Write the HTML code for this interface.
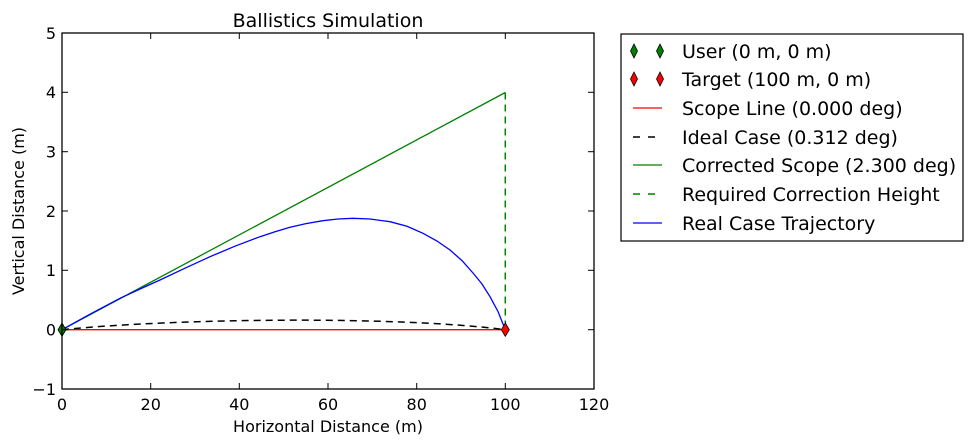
<!DOCTYPE html>
<html><head><meta charset="utf-8"><style>
html,body{margin:0;padding:0;background:#fff;}
svg{display:block;font-family:"DejaVu Sans","Liberation Sans",sans-serif;}
</style></head><body>
<svg width="973" height="446" viewBox="0 0 973 446" xmlns="http://www.w3.org/2000/svg">
<rect width="973" height="446" fill="#fff"/>
<text x="328" y="27" font-size="19" text-anchor="middle">Ballistics Simulation</text>
<!-- series -->
<line x1="62" y1="329.7" x2="505.3" y2="329.7" stroke="#f00" stroke-width="1.3"/>
<path d="M62 329.7 C 180 318, 400 316, 505.3 329.7" fill="none" stroke="#000" stroke-width="1.5" stroke-dasharray="7,5"/>
<line x1="62" y1="329.7" x2="505.3" y2="92.5" stroke="#008000" stroke-width="1.3"/>
<line x1="505.3" y1="92.5" x2="505.3" y2="329.7" stroke="#008000" stroke-width="1.5" stroke-dasharray="7,5"/>
<polyline fill="none" stroke="#00f" stroke-width="1.3" points="62,329.7 90,314.2 120,298.3 140,289 160,280 185,268.2 210,256.7 235,246.2 260,236.7 275,231.8 290,227.3 306,223.6 323,220.7 338,219 353,218.3 370,219 390,221.7 407,226.3 423,233.3 437,241 450,250 462,260.6 473,273 482,284 490,296.7 498,311.5 505.3,329.7"/>
<path d="M62 323 L66 329.7 L62 336.4 L58 329.7Z" fill="#008000" stroke="#000" stroke-width="0.8"/>
<path d="M505.3 323 L509.3 329.7 L505.3 336.4 L501.3 329.7Z" fill="#f00" stroke="#000" stroke-width="0.8"/>
<!-- axes -->
<rect x="62" y="33" width="532" height="356" fill="none" stroke="#000" stroke-width="1.3"/>
<g stroke="#000" stroke-width="1">
<line x1="150.7" y1="389" x2="150.7" y2="383"/><line x1="239.3" y1="389" x2="239.3" y2="383"/><line x1="328" y1="389" x2="328" y2="383"/><line x1="416.7" y1="389" x2="416.7" y2="383"/><line x1="505.3" y1="389" x2="505.3" y2="383"/>
<line x1="150.7" y1="33" x2="150.7" y2="39"/><line x1="239.3" y1="33" x2="239.3" y2="39"/><line x1="328" y1="33" x2="328" y2="39"/><line x1="416.7" y1="33" x2="416.7" y2="39"/><line x1="505.3" y1="33" x2="505.3" y2="39"/>
<line x1="62" y1="92.3" x2="68" y2="92.3"/><line x1="62" y1="151.7" x2="68" y2="151.7"/><line x1="62" y1="211" x2="68" y2="211"/><line x1="62" y1="270.3" x2="68" y2="270.3"/><line x1="62" y1="329.7" x2="68" y2="329.7"/>
<line x1="594" y1="92.3" x2="588" y2="92.3"/><line x1="594" y1="151.7" x2="588" y2="151.7"/><line x1="594" y1="211" x2="588" y2="211"/><line x1="594" y1="270.3" x2="588" y2="270.3"/><line x1="594" y1="329.7" x2="588" y2="329.7"/>
</g>
<g font-size="16" text-anchor="middle">
<text x="62" y="410">0</text><text x="150.7" y="410">20</text><text x="239.3" y="410">40</text><text x="328" y="410">60</text><text x="416.7" y="410">80</text><text x="505.3" y="410">100</text><text x="594" y="410">120</text>
</g>
<g font-size="16" text-anchor="end">
<text x="56" y="39">5</text><text x="56" y="98">4</text><text x="56" y="157.5">3</text><text x="56" y="216.8">2</text><text x="56" y="276">1</text><text x="56" y="335.5">0</text><text x="56" y="395">−1</text>
</g>
<text x="328" y="432" font-size="16" text-anchor="middle">Horizontal Distance (m)</text>
<text transform="translate(24,211) rotate(-90)" font-size="16" text-anchor="middle">Vertical Distance (m)</text>
<!-- legend -->
<rect x="621" y="34" width="342" height="207" fill="#fff" stroke="#000" stroke-width="1.2"/>
<path d="M634 44 L637.5 51 L634 58 L630.5 51Z" fill="#008000" stroke="#000" stroke-width="0.8"/>
<path d="M660 44 L663.5 51 L660 58 L656.5 51Z" fill="#008000" stroke="#000" stroke-width="0.8"/>
<path d="M634 72 L637.5 79 L634 86 L630.5 79Z" fill="#f00" stroke="#000" stroke-width="0.8"/>
<path d="M660 72 L663.5 79 L660 86 L656.5 79Z" fill="#f00" stroke="#000" stroke-width="0.8"/>
<line x1="633" y1="108" x2="662" y2="108" stroke="#f00" stroke-width="1.3"/>
<line x1="633" y1="137" x2="662" y2="137" stroke="#000" stroke-width="1.5" stroke-dasharray="7,8"/>
<line x1="633" y1="165" x2="662" y2="165" stroke="#008000" stroke-width="1.3"/>
<line x1="633" y1="194" x2="662" y2="194" stroke="#008000" stroke-width="1.5" stroke-dasharray="7,8"/>
<line x1="633" y1="223" x2="662" y2="223" stroke="#00f" stroke-width="1.3"/>
<g font-size="19">
<text x="682" y="58">User (0 m, 0 m)</text>
<text x="682" y="86">Target (100 m, 0 m)</text>
<text x="682" y="115">Scope Line (0.000 deg)</text>
<text x="682" y="144">Ideal Case (0.312 deg)</text>
<text x="682" y="172">Corrected Scope (2.300 deg)</text>
<text x="682" y="201">Required Correction Height</text>
<text x="682" y="230">Real Case Trajectory</text>
</g>
</svg>
</body></html>
